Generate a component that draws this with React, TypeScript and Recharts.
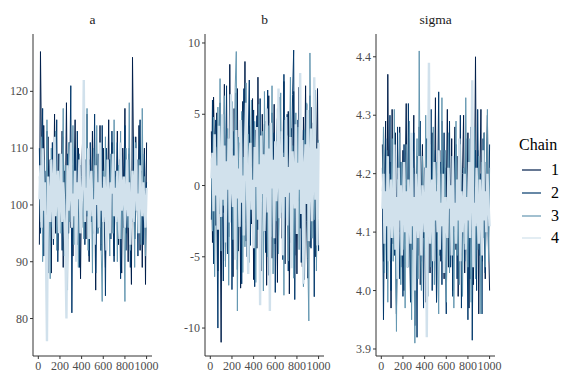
import React from 'react'
import { LineChart, Line, XAxis, YAxis } from 'recharts'

// iteration index shown on the x axis (thinned draws, every 10th)
const iterations = Array.from({ length: 100 }, (_, i) => (i + 1) * 10)
const xTicks = [0, 200, 400, 600, 800, 1000]
const chainNames = ['1', '2', '3', '4']
const chainColors = ['#011f4b', '#03396c', '#6497b1', '#d1e1ec']

const a1 = [
  93, 127, 108, 96, 114, 101, 90, 105, 112, 98,
  104, 88, 110, 99, 116, 95, 103, 92, 109, 101,
  97, 113, 89, 106, 100, 118, 94, 102, 111, 96,
  107, 91, 104, 115, 98, 93, 110, 100, 87, 105,
  112, 97, 103, 94, 116, 101, 90, 108, 99, 113,
  95, 106, 85, 109, 102, 96, 114, 92, 104, 110,
  98, 89, 107, 101, 115, 94, 103, 111, 97, 91,
  105, 100, 113, 93, 108, 96, 88, 110, 102, 117,
  95, 104, 90, 109, 99, 86, 126, 107, 94, 112,
  101, 97, 114, 92, 106, 89, 103, 110, 86, 111,
]
const a2 = [
  110, 95, 104, 117, 91, 106, 99, 113, 88, 102,
  108, 96, 111, 93, 105, 100, 115, 90, 103, 98,
  107, 92, 112, 97, 101, 87, 109, 95, 104, 121,
  81, 106, 99, 110, 94, 113, 100, 89, 107, 96,
  102, 115, 93, 108, 98, 104, 91, 111, 97, 106,
  100, 116, 88, 103, 95, 109, 101, 92, 114, 99,
  105, 84, 110, 97, 102, 108, 94, 113, 100, 90,
  106, 98, 111, 95, 103, 87, 109, 101, 96, 114,
  92, 105, 99, 110, 89, 104, 97, 112, 94, 100,
  108, 91, 106, 115, 98, 102, 93, 109, 100, 104,
]
const a3 = [
  105, 97, 112, 90, 108, 100, 94, 115, 99, 103,
  87, 110, 96, 106, 101, 113, 92, 104, 98, 109,
  95, 102, 117, 91, 107, 99, 85, 111, 97, 104,
  100, 114, 93, 106, 98, 102, 89, 109, 103, 96,
  111, 94, 105, 100, 117, 92, 107, 99, 104, 88,
  110, 97, 103, 114, 95, 101, 108, 93, 83, 106,
  99, 112, 96, 104, 100, 91, 109, 102, 95, 115,
  98, 105, 90, 107, 101, 113, 94, 103, 97, 83,
  110, 100, 96, 118, 92, 106, 99, 104, 89, 111,
  102, 95, 108, 100, 93, 117, 98, 105, 91, 103,
]
const a4 = [
  101, 107, 96, 110, 99, 104, 93, 76, 105, 100,
  97, 108, 102, 94, 112, 98, 103, 106, 95, 101,
  109, 97, 104, 100, 92, 80, 107, 99, 103, 111,
  96, 102, 98, 106, 90, 104, 101, 108, 95, 100,
  105, 122, 97, 103, 99, 110, 94, 102, 106, 98,
  101, 93, 107, 100, 104, 96, 111, 99, 103, 97,
  105, 101, 92, 108, 100, 95, 104, 102, 109, 98,
  103, 97, 106, 100, 94, 111, 99, 102, 105, 96,
  101, 108, 98, 104, 93, 100, 106, 97, 103, 110,
  99, 102, 95, 107, 101, 98, 104, 100, 96, 103,
]

const b1 = [
  3.8, -4.0, 6.2, 1.5, -2.8, 5.1, -6.0, 2.2, 0.4, -11.0,
  4.7, -1.9, 7.1, -5.3, 1.0, 3.3, -3.6, 8.5, -0.8, 2.6,
  -6.4, 5.4, -2.1, 0.9, 6.8, -4.6, 3.0, -7.2, 1.7, 5.9,
  -1.2, 8.7, -3.9, 2.4, -5.8, 4.2, 0.3, -2.7, 6.1, -6.6,
  1.8, 3.9, -4.4, 7.6, -1.5, 2.9, -6.0, 5.0, 0.6, -3.2,
  4.5, -7.0, 1.3, 6.3, -2.4, 3.6, -5.1, 0.2, 5.7, -4.1,
  2.0, -6.8, 6.4, -0.5, 3.4, -3.7, 1.1, 7.3, -5.5, 2.7,
  -2.0, 5.2, -7.6, 0.8, 4.0, -1.7, 6.6, -4.9, 2.3, -6.2,
  3.1, 6.9, -3.0, 1.4, -5.7, 4.8, 0.0, 7.0, -2.5, -6.5,
  3.7, -4.3, 5.5, -1.0, 2.1, 6.0, -5.0, 1.6, 6.8, -4.5,
]
const b2 = [
  -2.4, 6.0, -5.5, 2.8, 4.6, -1.3, -10.0, 3.5, 5.8, -3.9,
  1.2, -6.7, 4.1, -0.6, 7.0, -4.8, 2.5, -2.2, 5.6, -7.3,
  0.7, 3.8, -3.4, 6.5, -5.9, 1.9, -1.0, 4.4, -6.9, 2.9,
  6.8, -2.6, 0.5, -5.0, 3.2, 7.4, -4.2, 1.5, -1.8, 5.3,
  -7.1, 2.2, 4.9, -3.1, 0.1, 6.1, -5.6, 3.0, -0.9, 4.3,
  -4.7, 1.7, 6.7, -6.3, 2.6, -2.9, 5.1, -0.4, 3.7, -7.5,
  1.0, 4.7, -3.5, 6.2, -1.6, 2.4, -5.2, 7.8, -2.3, 0.9,
  5.0, -6.0, 3.3, -4.0, 1.4, 6.4, 9.5, -8.0, 2.1, -3.3,
  4.6, -1.1, 7.2, -5.4, 0.4, 3.9, -6.6, 2.7, 5.7, -2.8,
  -0.7, 6.3, -4.4, 1.8, 3.1, -7.8, 5.4, -1.4, 2.0, -4.6,
]
const b3 = [
  1.9, -3.2, 4.8, -6.4, 2.7, 0.3, 5.5, -2.0, 7.5, -4.6,
  3.1, -1.4, 6.3, -5.7, 0.8, 4.0, -7.0, 2.2, -0.5, 5.9,
  -3.8, 1.6, 6.9, 9.4, -8.8, 3.4, -2.7, 0.6, 5.2, -6.1,
  2.0, -4.3, 7.2, -1.1, 3.6, -5.4, 1.3, 6.0, -3.0, 0.0,
  4.5, -6.8, 2.6, -2.2, 5.7, -4.0, 1.1, 3.8, -7.4, 6.6,
  -0.8, 2.9, -5.0, 4.2, 0.5, -3.6, 7.0, -6.2, 1.7, 3.0,
  -2.5, 5.4, -4.8, 0.9, 6.5, -1.9, 2.3, -7.7, 4.6, -0.2,
  3.5, -5.3, 1.4, 7.6, -3.3, 2.8, -6.5, 0.7, 5.1, -2.1,
  4.1, -4.5, 6.2, -1.3, 2.5, -7.1, 3.9, -0.6, 5.8, -5.1,
  -9.5, 9.3, 1.2, -3.7, 4.4, -2.4, 6.7, -6.0, 0.3, 3.2,
]
const b4 = [
  0.5, 2.3, -1.8, 3.6, -0.7, 1.4, -3.1, 4.2, 0.9, -2.2,
  5.0, -1.0, 2.8, -4.0, 1.7, -0.3, 3.3, -2.6, 6.4, 0.2,
  -1.5, 2.1, -5.2, 3.9, -0.9, 1.2, -2.9, 4.6, -1.2, 0.7,
  -3.5, 2.5, 5.8, -0.4, -6.2, 1.9, 3.0, -1.7, 0.4, -4.4,
  2.7, -0.1, 4.1, -2.4, 1.5, -8.4, 3.5, -0.6, 2.2, -3.2,
  0.8, 5.4, -1.9, 2.6, -8.8, 4.4, -0.2, 1.8, -3.7, 3.1,
  -1.1, 0.6, 6.8, -2.3, 1.0, 3.8, -4.9, 2.0, -0.8, 4.8,
  -2.8, 1.3, -0.5, 3.4, -5.8, 2.4, 0.1, -1.6, 4.3, -3.4,
  1.6, -0.3, 7.9, -2.0, 3.2, -6.9, 0.9, 2.9, -1.3, 5.3,
  -3.9, 1.1, 4.0, -2.5, 0.4, 7.6, -1.0, 2.6, -4.2, 3.0,
]

const s1 = [
  4.25, 4.05, 4.18, 4.29, 4.02, 4.37, 4.12, 4.22, 3.97, 4.31,
  4.08, 4.16, 4.27, 3.96, 4.2, 4.1, 4.28, 4.04, 4.14, 4.24,
  4.0, 4.19, 4.32, 4.07, 4.13, 4.26, 3.99, 4.21, 4.11, 4.3,
  3.94, 4.17, 4.23, 4.06, 4.28, 4.01, 4.15, 4.25, 4.09, 4.19,
  3.98, 4.22, 4.12, 4.3, 4.03, 4.18, 4.27, 4.08, 4.14, 4.33,
  3.98, 4.2, 4.11, 4.24, 4.05, 4.29, 4.13, 4.02, 4.21, 4.16,
  4.31, 4.04, 4.19, 4.09, 4.26, 4.0, 4.17, 4.28, 4.07, 4.23,
  3.99, 4.14, 4.25, 4.06, 4.2, 4.3, 4.03, 4.18, 4.12, 4.27,
  3.97, 4.22, 4.1, 4.29, 4.01, 4.16, 4.4, 4.08, 4.24, 3.96,
  4.19, 4.31, 4.05, 4.13, 4.27, 4.02, 4.21, 4.3, 4.09, 4.0,
]
const s2 = [
  4.21, 3.95, 4.15, 4.26, 4.03, 4.19, 4.09, 4.3, 4.0, 4.17,
  4.24, 4.06, 4.13, 3.96, 4.28, 4.11, 4.02, 4.22, 4.14, 3.99,
  4.25, 4.08, 4.18, 4.04, 4.32, 4.12, 3.98, 4.2, 4.07, 4.27,
  4.01, 4.16, 3.92, 4.23, 4.1, 4.29, 4.05, 4.18, 3.97, 4.21,
  4.13, 4.26, 4.03, 4.15, 4.08, 4.31, 4.0, 4.19, 4.11, 4.24,
  3.98, 4.17, 4.34, 4.06, 4.22, 4.01, 4.14, 4.27, 4.09, 3.96,
  4.2, 4.12, 4.29, 4.04, 4.16, 3.99, 4.23, 4.1, 4.25, 4.02,
  4.18, 4.07, 4.3, 3.97, 4.14, 4.21, 4.05, 4.26, 4.11, 3.95,
  4.19, 4.02, 4.28, 3.915, 4.15, 4.09, 4.24, 4.0, 4.31, 4.13,
  4.06, 4.2, 3.96, 4.26, 4.1, 4.03, 4.22, 4.16, 4.07, 4.25,
]
const s3 = [
  4.17, 4.28, 4.03, 4.12, 4.24, 3.98, 4.2, 4.09, 4.15, 4.26,
  4.05, 4.31, 4.1, 3.93, 4.19, 4.13, 4.27, 4.01, 4.22, 4.07,
  4.16, 3.97, 4.25, 4.11, 4.04, 4.29, 4.14, 3.95, 4.21, 4.08,
  3.91, 4.18, 4.26, 4.02, 4.41, 4.12, 4.0, 4.23, 4.15, 4.06,
  4.3, 4.09, 3.99, 4.19, 4.25, 4.04, 4.14, 4.28, 4.01, 4.17,
  4.22, 4.07, 3.96, 4.2, 4.11, 4.33, 4.05, 4.16, 4.24, 3.98,
  4.13, 4.27, 4.03, 4.18, 4.09, 4.22, 3.97, 4.15, 4.29, 4.06,
  4.19, 4.01, 4.25, 4.12, 3.99, 4.21, 4.08, 4.33, 4.14, 4.04,
  4.26, 4.1, 3.98, 4.2, 4.15, 4.28, 4.02, 4.17, 4.07, 4.23,
  4.13, 3.96, 4.22, 4.09, 4.27, 4.04, 4.18, 4.31, 4.05, 4.21,
]
const s4 = [
  4.14, 4.2, 4.08, 4.17, 4.11, 4.23, 4.05, 4.15, 4.19, 4.09,
  4.13, 4.25, 4.07, 4.16, 4.02, 4.21, 4.12, 4.18, 4.06, 4.14,
  4.22, 4.1, 4.17, 4.04, 4.19, 4.13, 4.08, 4.27, 4.11, 4.16,
  4.0, 4.2, 4.14, 4.09, 4.23, 4.12, 4.06, 4.18, 4.15, 4.1,
  4.21, 3.92, 4.16, 4.39, 4.08, 4.13, 4.19, 4.05, 4.22, 4.12,
  4.17, 4.1, 4.24, 4.07, 4.15, 4.11, 4.2, 4.03, 4.16, 4.13,
  4.09, 4.21, 4.14, 4.18, 4.06, 4.23, 4.11, 4.15, 4.08, 4.19,
  4.12, 4.26, 4.05, 4.17, 4.1, 4.14, 4.2, 4.07, 4.16, 4.12,
  4.22, 4.09, 4.18, 4.36, 4.04, 4.15, 4.11, 4.21, 4.13, 4.08,
  4.19, 4.14, 4.06, 4.24, 4.12, 4.17, 4.1, 4.2, 4.15, 4.11,
]

const toRows = (chains: number[][]) =>
  iterations.map((iter, i) => ({
    iter,
    c1: chains[0][i],
    c2: chains[1][i],
    c3: chains[2][i],
    c4: chains[3][i],
  }))

const font = '"Liberation Serif", "DejaVu Serif", serif'
// chain 4 sits on top and fills the middle band like the dense original draws
const lineWidths = [1, 1, 1, 2.4]

// tick text drawn by hand so the serif face sticks
const makeTick = (side: 'x' | 'y', digits: number) => (props: any) => {
  const { x, y, payload } = props
  const label = Number(payload.value).toFixed(digits)
  return (
    <text
      x={x} y={y} dy={side === 'x' ? 10 : 4}
      textAnchor={side === 'x' ? 'middle' : 'end'}
      fontSize={12} fill="#4d4d4d" style={{ fontFamily: font }}
    >
      {label}
    </text>
  )
}

interface PanelProps {
  title: string
  chains: number[][]
  domain: [number, number]
  ticks: number[]
  digits: number
  left: number
}

const TracePanel: React.FC<PanelProps> = ({ title, chains, domain, ticks, digits, left }) => (
  <div style={{ position: 'absolute', left, top: 0, fontFamily: font }}>
    <div
      style={{
        position: 'absolute', left: 33, width: 119, top: 12, textAlign: 'center',
        fontSize: 13.5, color: '#1a1a1a',
      }}
    >
      {title}
    </div>
    <LineChart width={160} height={384} data={toRows(chains)} margin={{ top: 34, right: 8, bottom: 8, left: 0 }}>
      <XAxis
        dataKey="iter" type="number" domain={[-49, 1050]} ticks={xTicks} interval={0}
        tick={makeTick('x', 0)} tickSize={3} tickMargin={1} height={20}
        axisLine={{ stroke: '#333', strokeWidth: 1 }} tickLine={{ stroke: '#333' }}
      />
      <YAxis
        type="number" domain={domain} ticks={ticks} allowDataOverflow width={33}
        tick={makeTick('y', digits)} tickSize={3} tickMargin={2}
        axisLine={{ stroke: '#333', strokeWidth: 1 }} tickLine={{ stroke: '#333' }}
      />
      {chainNames.map((name, k) => (
        <Line
          key={name} dataKey={`c${k + 1}`} stroke={chainColors[k]} strokeWidth={lineWidths[k]}
          dot={false} isAnimationActive={false} type="linear"
        />
      ))}
    </LineChart>
  </div>
)

const ChainLegend: React.FC = () => (
  <div style={{ position: 'absolute', left: 519, top: 136, fontFamily: font, color: '#000' }}>
    <div style={{ fontSize: 16, marginBottom: 5 }}>Chain</div>
    {chainNames.map((name, k) => (
      <div key={name} style={{ display: 'flex', alignItems: 'center', height: 22.7, fontSize: 16 }}>
        <svg width={22} height={10} style={{ marginLeft: 2 }}>
          <line x1={1} y1={5} x2={20} y2={5} stroke={chainColors[k]} strokeWidth={1.2} />
        </svg>
        <span style={{ marginLeft: 8 }}>{name}</span>
      </div>
    ))}
  </div>
)

export default function App() {
  return (
    <div style={{ position: 'absolute', left: 0, top: 0, width: 576, height: 384, background: '#fff', overflow: 'hidden', fontFamily: font }}>
      <TracePanel title="a" chains={[a1, a2, a3, a4]} domain={[73.4, 130.1]} ticks={[80, 90, 100, 110, 120]} digits={0} left={0} />
      <TracePanel title="b" chains={[b1, b2, b3, b4]} domain={[-11.96, 10.63]} ticks={[-10, -5, 0, 5, 10]} digits={0} left={172} />
      <TracePanel title="sigma" chains={[s1, s2, s3, s4]} domain={[3.888, 4.439]} ticks={[3.9, 4.0, 4.1, 4.2, 4.3, 4.4]} digits={1} left={343} />
      <ChainLegend />
    </div>
  )
}
